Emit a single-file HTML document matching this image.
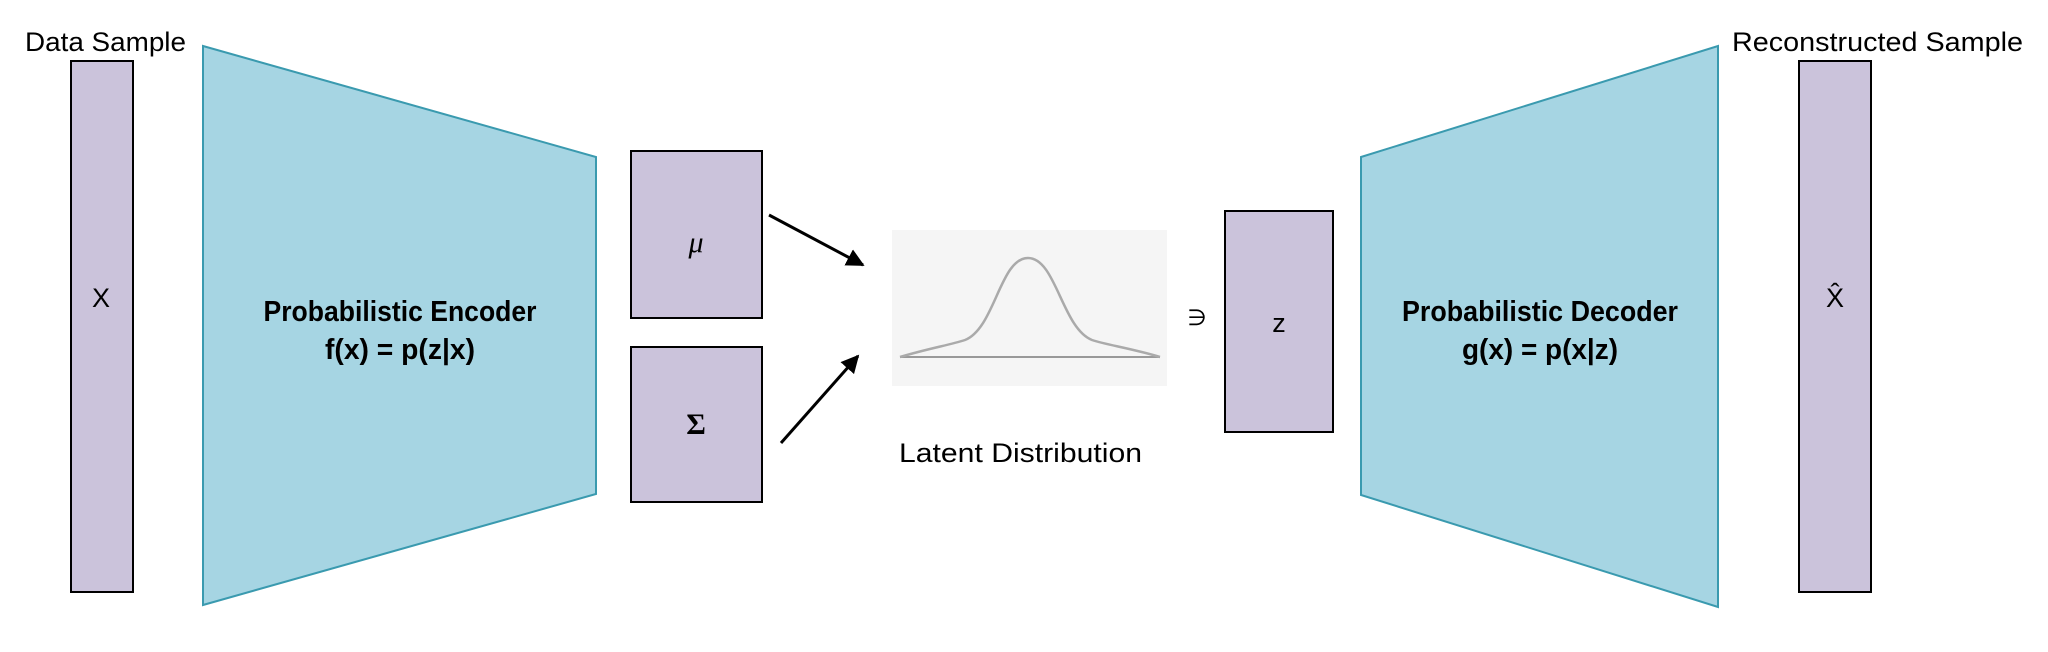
<!DOCTYPE html>
<html><head><meta charset="utf-8"><style>
html,body{margin:0;padding:0;background:#fff;}
svg{display:block;}
text{font-family:"Liberation Sans",sans-serif;fill:#000;}
</style></head><body>
<svg width="2048" height="652" viewBox="0 0 2048 652">
<defs>
<marker id="ah" viewBox="0 0 10 10" refX="9" refY="5" markerWidth="6" markerHeight="6" orient="auto">
<path d="M0,0 L10,5 L0,10 z" fill="#000"/></marker>
</defs>
<text x="25" y="51" font-size="27" textLength="161" lengthAdjust="spacingAndGlyphs">Data Sample</text>
<rect x="71" y="61" width="62" height="531" fill="#cbc3db" stroke="#000" stroke-width="2"/>
<text x="101" y="307" font-size="27" text-anchor="middle">X</text>

<polygon points="203,46 596,157 596,494 203,605" fill="#a6d5e3" stroke="#3a9aaf" stroke-width="2"/>
<text x="400" y="321" font-size="29" font-weight="bold" text-anchor="middle" textLength="273" lengthAdjust="spacingAndGlyphs">Probabilistic Encoder</text>
<text x="400" y="359" font-size="29" font-weight="bold" text-anchor="middle" textLength="150" lengthAdjust="spacingAndGlyphs">f(x) = p(z|x)</text>

<rect x="631" y="151" width="131" height="167" fill="#cbc3db" stroke="#000" stroke-width="2"/>
<text x="696" y="252" font-size="30" font-style="italic" text-anchor="middle" style="font-family:'Liberation Serif',serif">μ</text>
<rect x="631" y="347" width="131" height="155" fill="#cbc3db" stroke="#000" stroke-width="2"/>
<text x="696" y="434" font-size="30" font-weight="bold" text-anchor="middle" style="font-family:'Liberation Serif',serif">Σ</text>

<line x1="769" y1="215" x2="863" y2="265" stroke="#000" stroke-width="3" marker-end="url(#ah)"/>
<line x1="781" y1="443" x2="858" y2="356" stroke="#000" stroke-width="3" marker-end="url(#ah)"/>

<rect x="892" y="230" width="275" height="156" fill="#f5f5f5"/>
<line x1="900" y1="357" x2="1160" y2="357" stroke="#999" stroke-width="2"/>
<path d="M900,357 C930,348 950,345 965,340 C995,328 1000,258 1028,258 C1056,258 1062,328 1092,340 C1107,345 1130,348 1160,357" fill="none" stroke="#aaa" stroke-width="2.5"/>
<text x="899" y="462" font-size="27" textLength="243" lengthAdjust="spacingAndGlyphs">Latent Distribution</text>

<text x="1197" y="325" font-size="22" text-anchor="middle" style="font-family:'DejaVu Sans',sans-serif">∋</text>
<rect x="1225" y="211" width="108" height="221" fill="#cbc3db" stroke="#000" stroke-width="2"/>
<text x="1279" y="332" font-size="27" text-anchor="middle">z</text>

<polygon points="1361,157 1718,46 1718,607 1361,495" fill="#a6d5e3" stroke="#3a9aaf" stroke-width="2"/>
<text x="1540" y="321" font-size="29" font-weight="bold" text-anchor="middle" textLength="276" lengthAdjust="spacingAndGlyphs">Probabilistic Decoder</text>
<text x="1540" y="359" font-size="29" font-weight="bold" text-anchor="middle" textLength="156" lengthAdjust="spacingAndGlyphs">g(x) = p(x|z)</text>

<rect x="1799" y="61" width="72" height="531" fill="#cbc3db" stroke="#000" stroke-width="2"/>
<text x="1835" y="307" font-size="27" text-anchor="middle">X̂</text>
<text x="1732" y="51" font-size="27" textLength="291" lengthAdjust="spacingAndGlyphs">Reconstructed Sample</text>
</svg>
</body></html>
